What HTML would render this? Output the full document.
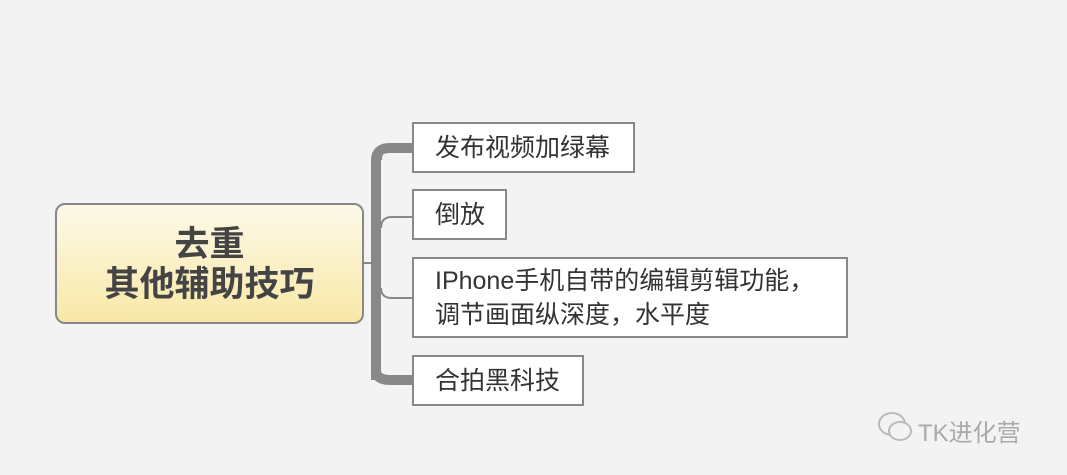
<!DOCTYPE html>
<html><head><meta charset="utf-8"><style>
body{margin:0;width:1067px;height:475px;background:#f3f3f3;position:relative;overflow:hidden;font-family:"Liberation Sans","Noto Sans CJK SC",sans-serif}
.b{position:absolute;background:#fff;border:2px solid #888;box-sizing:border-box;color:#333;font-size:25px;padding-left:21px;display:flex;align-items:center;line-height:34px;white-space:nowrap}
.root{position:absolute;left:55px;top:203px;width:309px;height:121px;box-sizing:border-box;border:2px solid #888;border-radius:10px;background:linear-gradient(#fdf9e8,#f8e8a6);text-align:center;font-weight:bold;font-size:35px;color:#444;line-height:40px;padding-top:20px}
</style></head><body>
<div class="root">去重<br>其他辅助技巧</div>
<svg width="1067" height="475" style="position:absolute;left:0;top:0">
<line x1="364" y1="263" x2="376" y2="263" stroke="#888" stroke-width="2"/>
<path d="M376 380 L376 160 Q376 148 390 148 L412 148" fill="none" stroke="#888" stroke-width="10"/>
<path d="M376 370 Q376 380 390 380 L412 380" fill="none" stroke="#888" stroke-width="10"/>
<path d="M381 160 Q381 148 393 148 L412 148" fill="none" stroke="#888" stroke-width="2"/>
<path d="M381 228 Q381 217 392 217 L412 217" fill="none" stroke="#888" stroke-width="2"/>
<path d="M381 288 Q381 298 392 298 L412 298" fill="none" stroke="#888" stroke-width="2"/>
<g fill="none" stroke="#bbb" stroke-width="2"><ellipse cx="892" cy="424" rx="13" ry="11"/><ellipse cx="900" cy="431" rx="11" ry="9" fill="#f3f3f3"/></g>
</svg>
<div class="b" style="left:412px;top:122px;width:223px;height:51px">发布视频加绿幕</div>
<div class="b" style="left:412px;top:189px;width:95px;height:51px">倒放</div>
<div class="b" style="left:412px;top:257px;width:436px;height:81px">IPhone手机自带的编辑剪辑功能，<br>调节画面纵深度，水平度</div>
<div class="b" style="left:412px;top:355px;width:172px;height:51px">合拍黑科技</div>
<div style="position:absolute;left:918px;top:413px;color:#aaa;font-size:24px">TK进化营</div>
</body></html>
